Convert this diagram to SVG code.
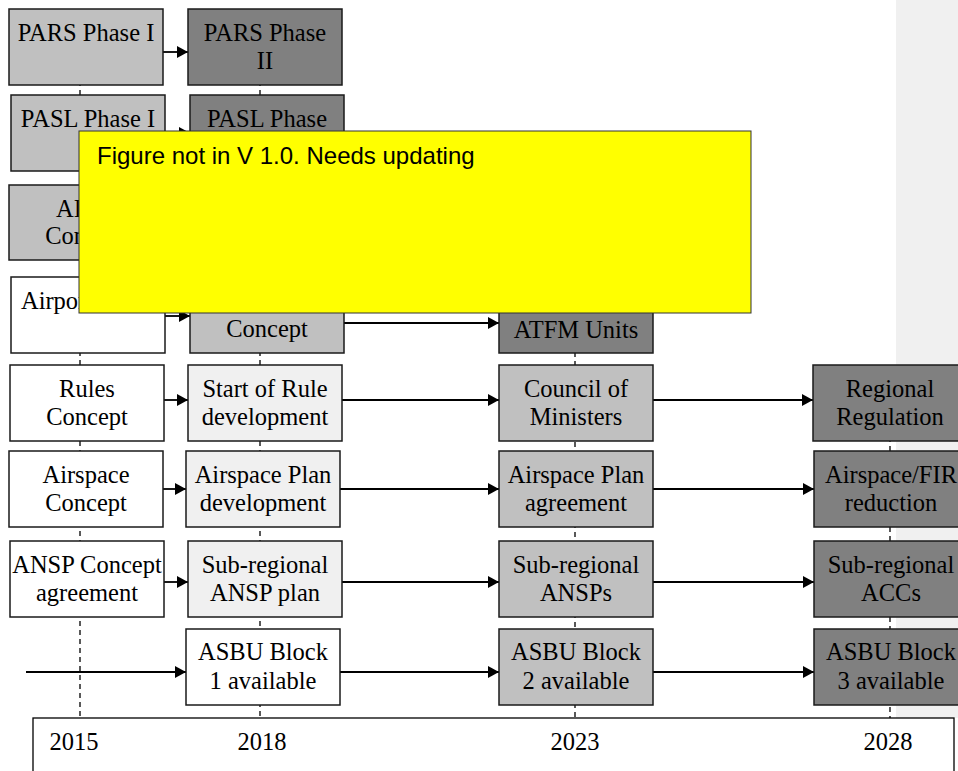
<svg xmlns="http://www.w3.org/2000/svg" width="958" height="771" viewBox="0 0 958 771">
<style>
.b{stroke:#1a1a1a;stroke-width:1.5}
.w{fill:#ffffff}.g{fill:#c0c0c0}.d{fill:#808080}.l{fill:#f0f0f0}
.t{font-family:"Liberation Serif","Times New Roman",serif;font-size:24.5px;fill:#000;text-anchor:middle}
.a{stroke:#000;stroke-width:1.8;fill:none;marker-end:url(#ah)}
.v{stroke:#000;stroke-width:1.3;stroke-dasharray:5,4;fill:none}
</style>
<defs>
<marker id="ah" markerUnits="userSpaceOnUse" markerWidth="12" markerHeight="12" refX="11" refY="6" orient="auto">
<path d="M0,0 L11,6 L0,12 z" fill="#000"/>
</marker>
</defs>
<rect x="896" y="0" width="62" height="718" fill="#f0f0f0"/>
<g id="connectors">
<line class="v" x1="80" y1="9" x2="80" y2="718"/>
<line class="v" x1="260" y1="9" x2="260" y2="718"/>
<line class="v" x1="575" y1="280" x2="575" y2="718"/>
<line class="v" x1="890" y1="365" x2="890" y2="718"/>
<line class="a" x1="163" y1="52" x2="188" y2="52"/>
<line class="a" x1="165" y1="133" x2="190" y2="133"/>
<line class="a" x1="165" y1="316" x2="190" y2="316"/>
<line class="a" x1="344" y1="323" x2="499" y2="323"/>
<line class="a" x1="164" y1="400" x2="188" y2="400"/>
<line class="a" x1="163" y1="489" x2="186" y2="489"/>
<line class="a" x1="164" y1="582" x2="188" y2="582"/>
<line class="a" x1="26" y1="672" x2="186" y2="672"/>
<line class="a" x1="342" y1="400" x2="499" y2="400"/>
<line class="a" x1="340" y1="489" x2="499" y2="489"/>
<line class="a" x1="342" y1="582" x2="499" y2="582"/>
<line class="a" x1="340" y1="672" x2="499" y2="672"/>
<line class="a" x1="653" y1="400" x2="813" y2="400"/>
<line class="a" x1="653" y1="489" x2="814" y2="489"/>
<line class="a" x1="653" y1="582" x2="814" y2="582"/>
<line class="a" x1="653" y1="672" x2="814" y2="672"/>
</g>
<g id="pars1"><rect class="b g" x="9" y="9" width="154" height="76"/><text class="t" x="86" y="41">PARS Phase I</text></g>
<g id="pars2"><rect class="b d" x="188" y="9" width="154" height="76"/><text class="t" x="265" y="41">PARS Phase</text><text class="t" x="265" y="69">II</text></g>
<g id="pasl1"><rect class="b g" x="11" y="95" width="154" height="76"/><text class="t" x="88" y="127">PASL Phase I</text></g>
<g id="pasl2"><rect class="b d" x="190" y="95" width="154" height="76"/><text class="t" x="267" y="127">PASL Phase</text></g>
<g id="row3a"><rect class="b g" x="9" y="185" width="154" height="75"/><text class="t" x="86" y="217">AIDC</text><text class="t" x="86" y="244">Concept</text></g>
<g id="airport"><rect class="b w" x="11" y="277" width="154" height="76"/><text class="t" x="88" y="309">Airport CDM</text></g>
<g id="row4b"><rect class="b g" x="190" y="277" width="154" height="76"/><text class="t" x="267" y="337">Concept</text></g>
<g id="atfm"><rect class="b d" x="499" y="277" width="154" height="76"/><text class="t" x="576" y="338">ATFM Units</text></g>
<g id="rules"><rect class="b w" x="10" y="365" width="154" height="76"/><text class="t" x="87" y="397">Rules</text><text class="t" x="87" y="425">Concept</text></g>
<g id="rulestart"><rect class="b l" x="188" y="365" width="154" height="76"/><text class="t" x="265" y="397">Start of Rule</text><text class="t" x="265" y="425">development</text></g>
<g id="council"><rect class="b g" x="499" y="365" width="154" height="76"/><text class="t" x="576" y="397">Council of</text><text class="t" x="576" y="425">Ministers</text></g>
<g id="regreg"><rect class="b d" x="813" y="365" width="154" height="76"/><text class="t" x="890" y="397">Regional</text><text class="t" x="890" y="425">Regulation</text></g>
<g id="aspc"><rect class="b w" x="9" y="451" width="154" height="76"/><text class="t" x="86" y="483">Airspace</text><text class="t" x="86" y="511">Concept</text></g>
<g id="aspdev"><rect class="b l" x="186" y="451" width="154" height="76"/><text class="t" x="263" y="483">Airspace Plan</text><text class="t" x="263" y="511">development</text></g>
<g id="aspagr"><rect class="b g" x="499" y="451" width="154" height="76"/><text class="t" x="576" y="483">Airspace Plan</text><text class="t" x="576" y="511">agreement</text></g>
<g id="fir"><rect class="b d" x="814" y="451" width="154" height="76"/><text class="t" x="891" y="483">Airspace/FIR</text><text class="t" x="891" y="511">reduction</text></g>
<g id="anspc"><rect class="b w" x="10" y="541" width="154" height="76"/><text class="t" x="87" y="573">ANSP Concept</text><text class="t" x="87" y="601">agreement</text></g>
<g id="anspplan"><rect class="b l" x="188" y="541" width="154" height="76"/><text class="t" x="265" y="573">Sub-regional</text><text class="t" x="265" y="601">ANSP plan</text></g>
<g id="ansps"><rect class="b g" x="499" y="541" width="154" height="76"/><text class="t" x="576" y="573">Sub-regional</text><text class="t" x="576" y="601">ANSPs</text></g>
<g id="accs"><rect class="b d" x="814" y="541" width="154" height="76"/><text class="t" x="891" y="573">Sub-regional</text><text class="t" x="891" y="601">ACCs</text></g>
<g id="asbu1"><rect class="b w" x="186" y="629" width="154" height="76"/><text class="t" x="263" y="660">ASBU Block</text><text class="t" x="263" y="689">1 available</text></g>
<g id="asbu2"><rect class="b g" x="499" y="629" width="154" height="76"/><text class="t" x="576" y="660">ASBU Block</text><text class="t" x="576" y="689">2 available</text></g>
<g id="asbu3"><rect class="b d" x="814" y="629" width="154" height="76"/><text class="t" x="891" y="660">ASBU Block</text><text class="t" x="891" y="689">3 available</text></g>
<g id="axis"><rect x="33" y="718" width="921" height="80" fill="#fff" stroke="#000" stroke-width="1.3"/>
<text class="t" x="74" y="750">2015</text><text class="t" x="262" y="750">2018</text><text class="t" x="575" y="750">2023</text><text class="t" x="888" y="750">2028</text></g>
<g id="note"><rect x="79" y="131" width="672" height="182" fill="#ffff00" stroke="#333" stroke-width="1"/>
<text x="97" y="164" font-family="'Liberation Sans',Arial,sans-serif" font-size="24" fill="#000">Figure not in V 1.0. Needs updating</text></g>
</svg>
